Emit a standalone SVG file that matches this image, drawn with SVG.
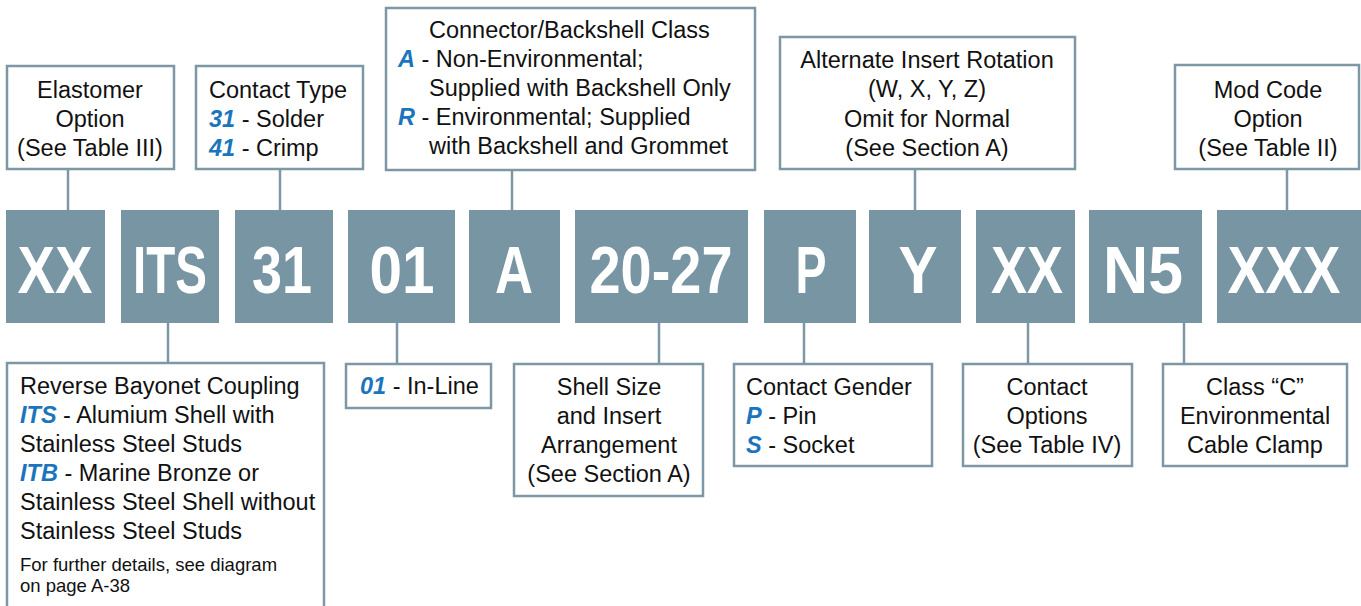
<svg xmlns="http://www.w3.org/2000/svg" width="1361" height="606" viewBox="0 0 1361 606">
<style>
.box{fill:#fff;stroke:#7d97a5;stroke-width:2.5}
.code{fill:#7895a3}
.ln{stroke:#7d97a5;stroke-width:2.5;fill:none}
.t{font-family:"Liberation Sans",Arial,sans-serif;font-size:23.5px;fill:#111}
.c{text-anchor:middle}
.b{font-weight:bold;font-style:italic;fill:#1b75bc}
.s{font-size:18.5px}
.k{font-family:"Liberation Sans Narrow","Liberation Sans",Arial,sans-serif;font-weight:bold;font-size:66px;fill:#fff;text-anchor:middle}
</style>
<g id="connectors">
<line class="ln" x1="68" y1="169" x2="68" y2="211"/>
<line class="ln" x1="280" y1="169" x2="280" y2="211"/>
<line class="ln" x1="512" y1="170" x2="512" y2="211"/>
<line class="ln" x1="915" y1="169" x2="915" y2="211"/>
<line class="ln" x1="1287" y1="169" x2="1287" y2="211"/>
<line class="ln" x1="168" y1="323" x2="168" y2="363"/>
<line class="ln" x1="397" y1="323" x2="397" y2="363"/>
<line class="ln" x1="659" y1="323" x2="659" y2="363"/>
<line class="ln" x1="804" y1="323" x2="804" y2="363"/>
<line class="ln" x1="1028" y1="323" x2="1028" y2="363"/>
<line class="ln" x1="1184" y1="323" x2="1184" y2="363"/>
</g>
<g id="code-xx"><rect class="code" x="6" y="210" width="99" height="113"/><text class="k" x="55" y="293" textLength="75" lengthAdjust="spacingAndGlyphs">XX</text></g>
<g id="code-its"><rect class="code" x="121" y="210" width="98" height="113"/><text class="k" x="170" y="293" textLength="74" lengthAdjust="spacingAndGlyphs">ITS</text></g>
<g id="code-31"><rect class="code" x="235" y="210" width="98" height="113"/><text class="k" x="282" y="293" textLength="60" lengthAdjust="spacingAndGlyphs">31</text></g>
<g id="code-01"><rect class="code" x="348" y="210" width="107" height="113"/><text class="k" x="402" y="293" textLength="65" lengthAdjust="spacingAndGlyphs">01</text></g>
<g id="code-a"><rect class="code" x="469" y="210" width="91" height="113"/><text class="k" x="514" y="293" textLength="38" lengthAdjust="spacingAndGlyphs">A</text></g>
<g id="code-2027"><rect class="code" x="575" y="210" width="173" height="113"/><text class="k" x="661" y="293" textLength="143" lengthAdjust="spacingAndGlyphs">20-27</text></g>
<g id="code-p"><rect class="code" x="764" y="210" width="92" height="113"/><text class="k" x="811" y="293" textLength="31" lengthAdjust="spacingAndGlyphs">P</text></g>
<g id="code-y"><rect class="code" x="869" y="210" width="92" height="113"/><text class="k" x="918" y="293" textLength="39" lengthAdjust="spacingAndGlyphs">Y</text></g>
<g id="code-xx2"><rect class="code" x="976" y="210" width="99" height="113"/><text class="k" x="1027" y="293" textLength="72" lengthAdjust="spacingAndGlyphs">XX</text></g>
<g id="code-n5"><rect class="code" x="1089" y="210" width="113" height="113"/><text class="k" x="1143" y="293" textLength="80" lengthAdjust="spacingAndGlyphs">N5</text></g>
<g id="code-xxx"><rect class="code" x="1217" y="210" width="144" height="113"/><text class="k" x="1284" y="293" textLength="113" lengthAdjust="spacingAndGlyphs">XXX</text></g>

<g id="elastomer"><rect class="box" x="7" y="66" width="167" height="103"/>
<text class="t c" x="90" y="98">Elastomer</text><text class="t c" x="90" y="127">Option</text><text class="t c" x="90" y="156">(See Table III)</text></g>
<g id="contact-type"><rect class="box" x="196" y="66" width="167" height="103"/>
<text class="t" x="209" y="98">Contact Type</text>
<text class="t" x="209" y="127"><tspan class="b">31</tspan> - Solder</text>
<text class="t" x="209" y="156"><tspan class="b">41</tspan> - Crimp</text></g>
<g id="backshell-class"><rect class="box" x="386" y="8" width="369" height="162"/>
<text class="t" x="429" y="38">Connector/Backshell Class</text>
<text class="t" x="398" y="67"><tspan class="b">A</tspan> - Non-Environmental;</text>
<text class="t" x="429" y="96">Supplied with Backshell Only</text>
<text class="t" x="398" y="125"><tspan class="b">R</tspan> - Environmental; Supplied</text>
<text class="t" x="429" y="154">with Backshell and Grommet</text></g>
<g id="insert-rotation"><rect class="box" x="780" y="37" width="295" height="132"/>
<text class="t c" x="927" y="68">Alternate Insert Rotation</text>
<text class="t c" x="927" y="97">(W, X, Y, Z)</text>
<text class="t c" x="927" y="127">Omit for Normal</text>
<text class="t c" x="927" y="156">(See Section A)</text></g>
<g id="mod-code"><rect class="box" x="1175" y="65" width="184" height="104"/>
<text class="t c" x="1268" y="98">Mod Code</text><text class="t c" x="1268" y="127">Option</text><text class="t c" x="1268" y="156">(See Table II)</text></g>

<g id="coupling"><rect class="box" x="7" y="363" width="317" height="250"/>
<text class="t" x="20" y="394">Reverse Bayonet Coupling</text>
<text class="t" x="20" y="423"><tspan class="b">ITS</tspan> - Alumium Shell with</text>
<text class="t" x="20" y="452">Stainless Steel Studs</text>
<text class="t" x="20" y="481"><tspan class="b">ITB</tspan> - Marine Bronze or</text>
<text class="t" x="20" y="510">Stainless Steel Shell without</text>
<text class="t" x="20" y="539">Stainless Steel Studs</text>
<text class="t s" x="20" y="571">For further details, see diagram</text>
<text class="t s" x="20" y="592">on page A-38</text></g>
<g id="inline"><rect class="box" x="346" y="364" width="145" height="44"/>
<text class="t" x="360" y="394"><tspan class="b">01</tspan> - In-Line</text></g>
<g id="shell-size"><rect class="box" x="514" y="364" width="189" height="132"/>
<text class="t c" x="609" y="395">Shell Size</text><text class="t c" x="609" y="424">and Insert</text>
<text class="t c" x="609" y="453">Arrangement</text><text class="t c" x="609" y="482">(See Section A)</text></g>
<g id="gender"><rect class="box" x="734" y="364" width="198" height="102"/>
<text class="t" x="746" y="395">Contact Gender</text>
<text class="t" x="746" y="424"><tspan class="b">P</tspan> - Pin</text>
<text class="t" x="746" y="453"><tspan class="b">S</tspan> - Socket</text></g>
<g id="contact-options"><rect class="box" x="963" y="364" width="169" height="102"/>
<text class="t c" x="1047" y="395">Contact</text><text class="t c" x="1047" y="424">Options</text><text class="t c" x="1047" y="453">(See Table IV)</text></g>
<g id="cable-clamp"><rect class="box" x="1163" y="364" width="184" height="102"/>
<text class="t c" x="1255" y="395">Class “C”</text><text class="t c" x="1255" y="424">Environmental</text><text class="t c" x="1255" y="453">Cable Clamp</text></g>
</svg>
